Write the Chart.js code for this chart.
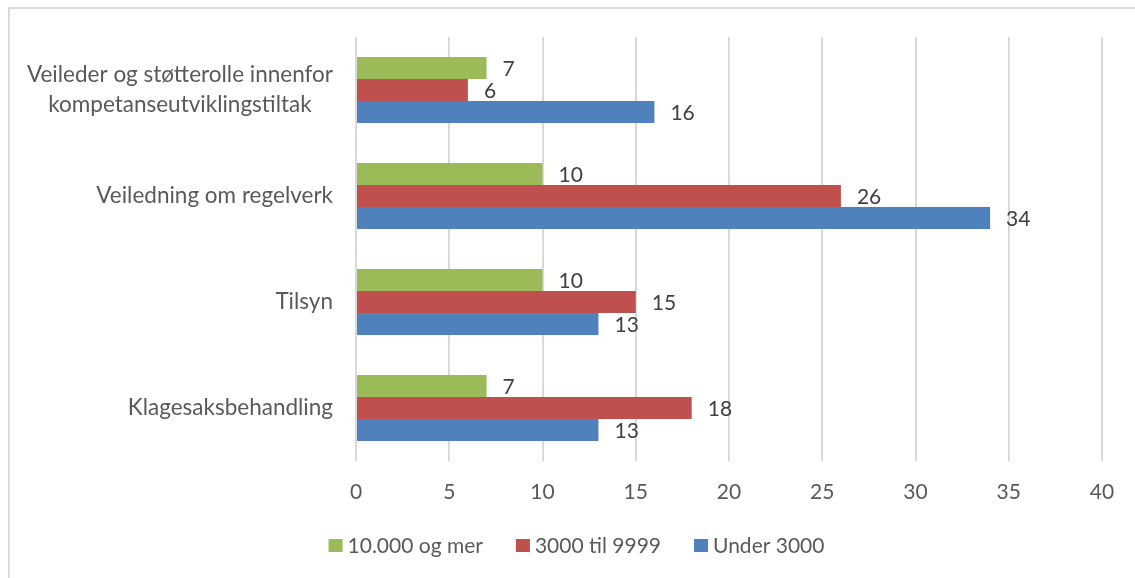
<!DOCTYPE html>
<html>
<head>
<meta charset="utf-8">
<script src="https://cdn.jsdelivr.net/npm/chart.js@4"></script>
<style>
html, body { margin: 0; padding: 0; background: #fff; }
#wrap { position: relative; width: 1135px; height: 578px; overflow: hidden; }
#frame { position: absolute; left: 8px; top: 7px; width: 1200px; height: 700px; border: 2px solid #d9d9d9; box-sizing: border-box; }
canvas { position: absolute; left: 0; top: 0; }
</style>
</head>
<body>
<div id="wrap">
  <div id="frame"></div>
  <canvas id="chart" width="1135" height="578"></canvas>
</div>
<script>
// data
const categories = [
    ['Veileder og støtterolle innenfor', 'kompetanseutviklingstiltak'],
    'Veiledning om regelverk',
    'Tilsyn',
    'Klagesaksbehandling'
];
const seriesNames = ['10.000 og mer', '3000 til 9999', 'Under 3000'];
const valuesOver10000 = [7, 10, 10, 7];
const values3000to9999 = [6, 26, 15, 18];
const valuesUnder3000 = [16, 34, 13, 13];
const xTickLabels = [0, 5, 10, 15, 20, 25, 30, 35, 40];

const colors = ['#9bbb59', '#c0504d', '#4f81bd'];
const fontFamily = 'Lato, "Open Sans", sans-serif';

// verdier til høyre for stolpene
const valueLabels = {
    id: 'valueLabels',
    afterDatasetsDraw(chart) {
        const ctx = chart.ctx;
        ctx.save();
        ctx.font = '21px ' + fontFamily;
        ctx.fillStyle = '#404040';
        ctx.textAlign = 'left';
        ctx.textBaseline = 'middle';
        chart.data.datasets.forEach((ds, i) => {
            chart.getDatasetMeta(i).data.forEach((bar, j) => {
                ctx.fillText(ds.data[j], bar.x + 16, bar.y + 1);
            });
        });
        ctx.restore();
    }
};

// kategorinavn: flerlinjede sentrert, ellers høyrejustert
const categoryLabels = {
    id: 'categoryLabels',
    afterDraw(chart) {
        const ctx = chart.ctx;
        const y = chart.scales.y;
        const right = y.right - 23;
        ctx.save();
        ctx.font = '22.5px ' + fontFamily;
        ctx.fillStyle = '#595959';
        ctx.textBaseline = 'middle';
        chart.data.labels.forEach((lab, i) => {
            const py = y.getPixelForTick(i);
            if (Array.isArray(lab)) {
                const w = Math.max(...lab.map(s => ctx.measureText(s).width));
                ctx.textAlign = 'center';
                lab.forEach((s, k) => ctx.fillText(s, right - w / 2, py + (k - (lab.length - 1) / 2) * 30));
            } else {
                ctx.textAlign = 'right';
                ctx.fillText(lab, right, py);
            }
        });
        ctx.restore();
    }
};

// forklaring nederst
const bottomLegend = {
    id: 'bottomLegend',
    afterDraw(chart) {
        const ctx = chart.ctx;
        ctx.save();
        ctx.font = '21px ' + fontFamily;
        ctx.textBaseline = 'middle';
        ctx.textAlign = 'left';
        const box = 14, gap = 5, spacing = 33;
        const items = chart.data.datasets.map(ds => ({
            text: ds.label, color: ds.backgroundColor, w: ctx.measureText(ds.label).width
        }));
        const total = items.reduce((s, it) => s + box + gap + it.w, 0) + spacing * (items.length - 1);
        let x = chart.width / 2 + 9 - total / 2;
        const cy = 545;
        items.forEach(it => {
            ctx.fillStyle = it.color;
            ctx.fillRect(x, cy - 6, box, 13);
            ctx.fillStyle = '#595959';
            ctx.fillText(it.text, x + box + gap, cy + 1);
            x += box + gap + it.w + spacing;
        });
        ctx.restore();
    }
};

new Chart(document.getElementById('chart'), {
    type: 'bar',
    data: {
        labels: categories,
        datasets: [
            { label: seriesNames[0], data: valuesOver10000, backgroundColor: colors[0] },
            { label: seriesNames[1], data: values3000to9999, backgroundColor: colors[1] },
            { label: seriesNames[2], data: valuesUnder3000, backgroundColor: colors[2] }
        ]
    },
    options: {
        indexAxis: 'y',
        responsive: false,
        animation: false,
        devicePixelRatio: 1,
        categoryPercentage: 0.623,
        barPercentage: 1,
        layout: { padding: { top: 37, right: 33, left: 0, bottom: 57 } },
        scales: {
            x: {
                min: xTickLabels[0],
                max: xTickLabels[xTickLabels.length - 1],
                afterBuildTicks(scale) {
                    scale.ticks = xTickLabels.map(v => ({ value: v }));
                },
                afterFit(scale) { scale.height = 60; },
                grid: { color: '#d9d9d9', lineWidth: 2, drawTicks: false },
                border: { display: false },
                ticks: {
                    color: '#595959',
                    padding: 19,
                    font: { family: fontFamily, size: 21 }
                }
            },
            y: {
                afterFit(scale) { scale.width = 356; },
                grid: { display: false },
                border: { display: false },
                ticks: { display: false }
            }
        },
        plugins: {
            legend: { display: false },
            tooltip: { enabled: false }
        }
    },
    plugins: [valueLabels, categoryLabels, bottomLegend]
});
</script>
</body>
</html>
